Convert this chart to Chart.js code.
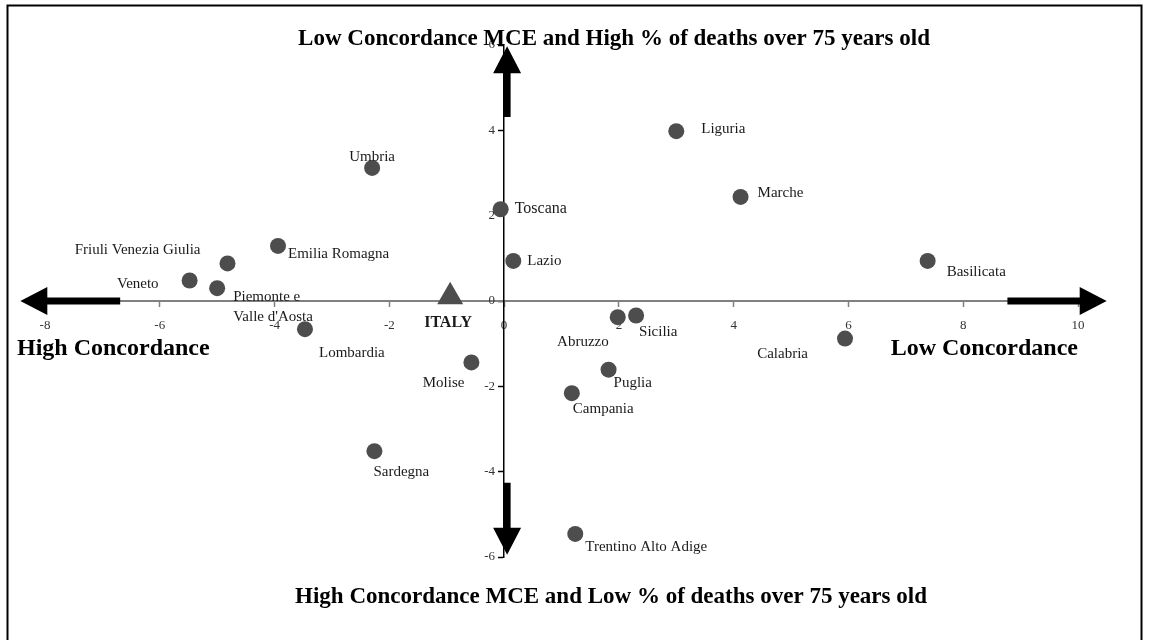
<!DOCTYPE html>
<html>
<head>
<meta charset="utf-8">
<script src="https://cdn.jsdelivr.net/npm/chart.js@4"></script>
<style>
  html, body { margin: 0; padding: 0; background: #fff; }
  #wrap { width: 1149px; height: 640px; position: relative; }
</style>
</head>
<body>
<div id="wrap"><canvas id="chart" width="1149" height="640"></canvas></div>
<script>
// regions and their coordinates (x = concordance, y = % of deaths over 75)
const regions = [
  "Liguria", "Umbria", "Marche", "Toscana", "Emilia Romagna", "Lazio",
  "Basilicata", "Friuli Venezia Giulia", "Veneto", "Piemonte e Valle d'Aosta",
  "Lombardia", "Abruzzo", "Sicilia", "Calabria", "Molise", "Puglia",
  "Campania", "Sardegna", "Trentino Alto Adige"
];
const concordance = [
  3.00, -2.30, 4.12, -0.06, -3.94, 0.16,
  7.38, -4.82, -5.48, -5.00,
  -3.47, 1.98, 2.30, 5.94, -0.57, 1.82,
  1.18, -2.26, 1.24
];
const deathsOver75 = [
  3.98, 3.12, 2.44, 2.15, 1.29, 0.94,
  0.94, 0.88, 0.48, 0.30,
  -0.66, -0.38, -0.34, -0.88, -1.44, -1.61,
  -2.16, -3.52, -5.46
];
const italyX = [-0.94];
const italyY = [0.10];
const xTickValues = [-8, -6, -4, -2, 0, 2, 4, 6, 8, 10];
const yTickValues = [-6, -4, -2, 0, 2, 4, 6];

const SERIF = "'Liberation Serif', 'Times New Roman', serif";
const DOT = "#4d4d4d";

// where each label sits relative to its marker: dx, dy (px), alignment
const labelPlace = {
  "Liguria": [25, -2, "left"],
  "Umbria": [0, -11, "center"],
  "Marche": [17, -4, "left"],
  "Toscana": [14, 0, "left", 16],
  "Emilia Romagna": [10, 8, "left"],
  "Lazio": [14, 0, "left"],
  "Basilicata": [19, 11, "left"],
  "Friuli Venezia Giulia": [-27, -13, "right"],
  "Veneto": [-31, 4, "right"],
  "Piemonte e Valle d'Aosta": [16, 9, "left"],
  "Lombardia": [14, 24, "left"],
  "Abruzzo": [-9, 25, "right"],
  "Sicilia": [3, 17, "left"],
  "Calabria": [-37, 16, "right"],
  "Molise": [-7, 21, "right"],
  "Puglia": [5, 13, "left"],
  "Campania": [1, 16, "left"],
  "Sardegna": [-1, 21, "left"],
  "Trentino Alto Adige": [10, 13, "left"]
};
const multiLine = { "Piemonte e Valle d'Aosta": ["Piemonte e", "Valle d'Aosta"] };

// arrows in data units: shaft start -> tip
const arrows = [
  { from: [-6.69, 0], to: [-8.43, 0], nudge: 0 },
  { from: [8.77, 0], to: [10.5, 0], nudge: 0 },
  { from: [0, 4.31], to: [0, 5.97], nudge: 3 },
  { from: [0, -4.26], to: [0, -5.95], nudge: 3 }
];

const decorations = {
  id: "decorations",
  beforeDraw(chart) {
    const ctx = chart.ctx;
    ctx.save();
    ctx.fillStyle = "#fff";
    ctx.fillRect(0, 0, chart.width, chart.height);
    ctx.strokeStyle = "#000";
    ctx.lineWidth = 2;
    ctx.strokeRect(7.5, 5.5, 1134, 660);
    ctx.restore();
  },
  afterDatasetsDraw(chart) {
    const ctx = chart.ctx;
    const xs = chart.scales.x, ys = chart.scales.y;
    ctx.save();

    // y tick labels, left of the crossing axis
    const axisX = xs.getPixelForValue(0);
    ctx.fillStyle = "#333";
    ctx.font = "13px " + SERIF;
    ctx.textAlign = "right";
    ctx.textBaseline = "middle";
    yTickValues.forEach(v => ctx.fillText(String(v), axisX - 9, ys.getPixelForValue(v)));

    // arrows
    ctx.fillStyle = "#000";
    arrows.forEach(a => {
      let x1 = xs.getPixelForValue(a.from[0]) + a.nudge;
      let y1 = ys.getPixelForValue(a.from[1]);
      let x2 = xs.getPixelForValue(a.to[0]) + a.nudge;
      let y2 = ys.getPixelForValue(a.to[1]);
      const len = Math.hypot(x2 - x1, y2 - y1);
      const ux = (x2 - x1) / len, uy = (y2 - y1) / len;
      const px = -uy, py = ux;
      const head = 27, hw = 14, sw = 3.5;
      const bx = x2 - ux * head, by = y2 - uy * head;
      ctx.beginPath();
      ctx.moveTo(x1 + px * sw, y1 + py * sw);
      ctx.lineTo(bx + px * sw, by + py * sw);
      ctx.lineTo(bx + px * hw, by + py * hw);
      ctx.lineTo(x2, y2);
      ctx.lineTo(bx - px * hw, by - py * hw);
      ctx.lineTo(bx - px * sw, by - py * sw);
      ctx.lineTo(x1 - px * sw, y1 - py * sw);
      ctx.closePath();
      ctx.fill();
    });

    // region labels
    ctx.fillStyle = "#1a1a1a";
    ctx.textBaseline = "middle";
    const meta = chart.getDatasetMeta(0);
    meta.data.forEach((pt, i) => {
      const name = regions[i];
      const p = labelPlace[name];
      ctx.font = (p[3] || 15) + "px " + SERIF;
      ctx.textAlign = p[2];
      const lines = multiLine[name] || [name];
      lines.forEach((ln, k) => ctx.fillText(ln, pt.x + p[0], pt.y + p[1] + k * 20));
    });
    const it = chart.getDatasetMeta(1).data[0];
    ctx.font = "bold 16px " + SERIF;
    ctx.textAlign = "center";
    ctx.fillText("ITALY", it.x - 2, it.y + 26);

    // quadrant captions
    ctx.fillStyle = "#000";
    ctx.textBaseline = "alphabetic";
    ctx.font = "bold 23px " + SERIF;
    ctx.textAlign = "center";
    ctx.fillText("Low Concordance MCE and High % of deaths over 75 years old", 614, 45);
    ctx.fillText("High Concordance MCE and Low % of deaths over 75 years old", 611, 603);
    ctx.font = "bold 24px " + SERIF;
    ctx.textAlign = "left";
    ctx.fillText("High Concordance", 17, 355);
    ctx.textAlign = "right";
    ctx.fillText("Low Concordance", xs.getPixelForValue(10), 355);
    ctx.restore();
  }
};

new Chart(document.getElementById("chart"), {
  type: "scatter",
  data: {
    datasets: [
      {
        label: "Regions",
        data: regions.map((r, i) => ({ x: concordance[i], y: deathsOver75[i] })),
        backgroundColor: DOT,
        borderWidth: 0,
        pointRadius: 8,
        pointHoverRadius: 8
      },
      {
        label: "ITALY",
        data: italyX.map((x, i) => ({ x: x, y: italyY[i] })),
        backgroundColor: DOT,
        borderWidth: 0,
        pointStyle: "triangle",
        pointRadius: 15,
        pointHoverRadius: 15
      }
    ]
  },
  options: {
    responsive: false,
    animation: false,
    devicePixelRatio: 1,
    layout: { padding: { left: 45, right: 71, top: 45, bottom: 83 } },
    plugins: { legend: { display: false }, tooltip: { enabled: false } },
    scales: {
      x: {
        type: "linear",
        min: -8, max: 10,
        position: { y: 0 },
        afterFit(s) { s.height = 0; },
        afterBuildTicks(s) { s.ticks = xTickValues.map(v => ({ value: v })); },
        border: { color: "#808080", width: 2 },
        grid: { drawOnChartArea: false, drawTicks: true, tickLength: 5, color: "#808080", tickWidth: 1.5 },
        ticks: { font: { family: SERIF, size: 13 }, color: "#333", padding: 12 }
      },
      y: {
        type: "linear",
        min: -6, max: 6,
        position: { x: 0 },
        afterFit(s) { s.width = 0; },
        afterBuildTicks(s) { s.ticks = yTickValues.map(v => ({ value: v })); },
        border: { color: "#000", width: 1.5 },
        grid: { drawOnChartArea: false, drawTicks: true, tickLength: 5, color: "#000", tickWidth: 1.5 },
        ticks: { display: false }
      }
    }
  },
  plugins: [decorations]
});
</script>
</body>
</html>
